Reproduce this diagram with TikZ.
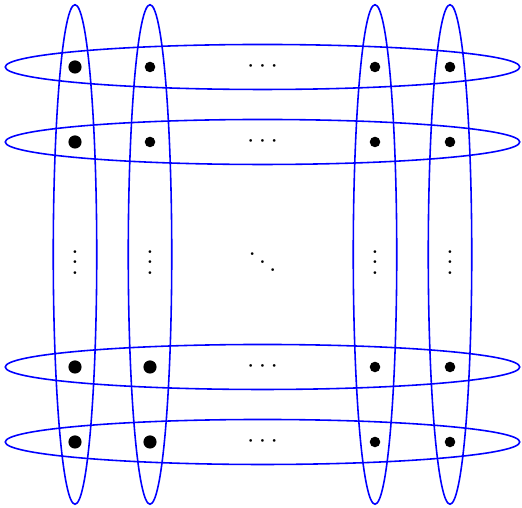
\documentclass[tikz,border=0pt]{standalone}
\usepackage{tikz}
\usetikzlibrary{positioning}
\tikzstyle{bigdot} = [circle, fill=black, inner sep=0pt, minimum size=5pt]
\tikzstyle{smalldot} = [circle, fill=black, inner sep=0pt, minimum size=4pt]
\tikzstyle{hyperedge} = [draw=blue, line width=0.6pt]
\tikzstyle{gap} = [inner sep=0pt]

\begin{document}
\begin{tikzpicture}
    \useasboundingbox (-1,-5.88) rectangle (5.96,0.893);

    % columns
    \draw [hyperedge] (0,-2.5) ellipse (0.29 and 3.33);
    \draw [hyperedge] (1,-2.5) ellipse (0.29 and 3.33);
    \draw [hyperedge] (4,-2.5) ellipse (0.29 and 3.33);
    \draw [hyperedge] (5,-2.5) ellipse (0.29 and 3.33);
    % rows
    \draw [hyperedge] (2.5,0) ellipse (3.43 and 0.3);
    \draw [hyperedge] (2.5,-1) ellipse (3.43 and 0.3);
    \draw [hyperedge] (2.5,-4) ellipse (3.43 and 0.3);
    \draw [hyperedge] (2.5,-5) ellipse (3.43 and 0.3);

    \node (a11) [bigdot] at (0,0) {};
    \node (a12) [smalldot] at (1,0) {};
    \node (a1d) [gap] at (2.5,0) {$\cdots$};
    \node (a13) [smalldot] at (4,0) {};
    \node (a14) [smalldot] at (5,0) {};

    \node (a21) [bigdot] at (0,-1) {};
    \node (a22) [smalldot] at (1,-1) {};
    \node (a2d) [gap] at (2.5,-1) {$\cdots$};
    \node (a23) [smalldot] at (4,-1) {};
    \node (a24) [smalldot] at (5,-1) {};

    \node (v1) [gap] at (0,-2.5) {$\vdots$};
    \node (v2) [gap] at (1,-2.5) {$\vdots$};
    \node (dd) [gap] at (2.5,-2.5) {$\ddots$};
    \node (v3) [gap] at (4,-2.5) {$\vdots$};
    \node (v4) [gap] at (5,-2.5) {$\vdots$};

    \node (a31) [bigdot] at (0,-4) {};
    \node (a32) [bigdot] at (1,-4) {};
    \node (a3d) [gap] at (2.5,-4) {$\cdots$};
    \node (a33) [smalldot] at (4,-4) {};
    \node (a34) [smalldot] at (5,-4) {};

    \node (a41) [bigdot] at (0,-5) {};
    \node (a42) [bigdot] at (1,-5) {};
    \node (a4d) [gap] at (2.5,-5) {$\cdots$};
    \node (a43) [smalldot] at (4,-5) {};
    \node (a44) [smalldot] at (5,-5) {};
\end{tikzpicture}
\end{document}
